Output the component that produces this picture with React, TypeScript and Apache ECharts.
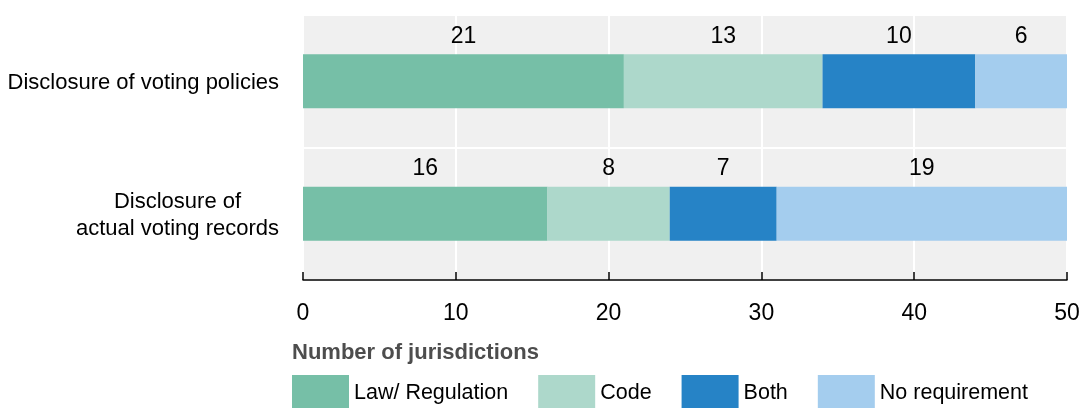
import React, { useEffect, useRef } from "react";
import * as echarts from "echarts";

const categories = ["Disclosure of voting policies", "Disclosure of\nactual voting records"];
const seriesNames = ["Law/ Regulation", "Code", "Both", "No requirement"];
const lawRegulation = [21, 16];
const code = [13, 8];
const both = [10, 7];
const noRequirement = [6, 19];
const xTicks = { min: 0, max: 50, interval: 10 };
const axisTitle = "Number of jurisdictions";

const colors = ["#76bfa7", "#add8cb", "#2683c6", "#a4cdee"];
const FONT = "'Liberation Sans Narrow', 'Arial Narrow', 'Liberation Sans', Arial, sans-serif";
const FS = 22;

export default function App() {
  const ref = useRef<HTMLDivElement>(null);
  useEffect(() => {
    if (!ref.current) return;
    const chart = echarts.init(ref.current, undefined, { renderer: "svg" });
    const values = [lawRegulation, code, both, noRequirement];
    chart.setOption({
      animation: false,
      textStyle: { fontFamily: FONT },
      title: {
        text: axisTitle,
        left: 292,
        top: 340,
        padding: 0,
        textStyle: { fontFamily: FONT, fontSize: 22, fontWeight: "bold", color: "#4d4d4d", lineHeight: 22 },
      },
      legend: {
        left: 292,
        top: 375,
        padding: 0,
        icon: "rect",
        itemWidth: 57,
        itemHeight: 34,
        itemGap: 30,
        data: seriesNames,
        textStyle: { fontFamily: FONT, fontSize: 21.5, color: "#000" },
      },
      grid: {
        left: 303,
        right: 16,
        top: 15,
        bottom: 128,
        show: true,
        backgroundColor: "#f0f0f0",
        borderWidth: 0,
        containLabel: false,
        outerBoundsMode: "none",
      },
      xAxis: {
        type: "value",
        min: xTicks.min,
        max: xTicks.max,
        interval: xTicks.interval,
        axisLine: { show: true, lineStyle: { color: "#000", width: 1.5 } },
        axisTick: { show: true, inside: true, length: 8, lineStyle: { color: "#000", width: 1.5 } },
        splitLine: { show: true, lineStyle: { color: "#fff", width: 2 } },
        axisLabel: { fontFamily: FONT, fontSize: 23, color: "#000", margin: 20 },
      },
      yAxis: {
        type: "category",
        inverse: true,
        data: categories,
        axisLine: { show: false },
        axisTick: { show: false },
        splitLine: { show: true, lineStyle: { color: "#fff", width: 2 } },
        axisLabel: {
          margin: 24,
          color: "#000",
          fontFamily: FONT,
          fontSize: FS,
          formatter: (v: string) => v.split("\n").map((l) => `{c|${l}}`).join("\n"),
          rich: {
            c: { align: "center", fontFamily: FONT, fontSize: FS, lineHeight: 27, color: "#000" },
          },
        },
      },
      series: seriesNames.map((name, i) => ({
        name,
        type: "bar",
        stack: "total",
        barWidth: 54,
        data: values[i],
        itemStyle: { color: colors[i] },
        label: {
          show: true,
          position: "top",
          distance: 8,
          fontFamily: FONT,
          fontSize: 23,
          lineHeight: 23,
          color: "#000",
        },
      })),
    });
    return () => chart.dispose();
  }, []);
  return <div ref={ref} style={{ position: "fixed", left: 0, top: 0, width: 1083, height: 408 }} />;
}
